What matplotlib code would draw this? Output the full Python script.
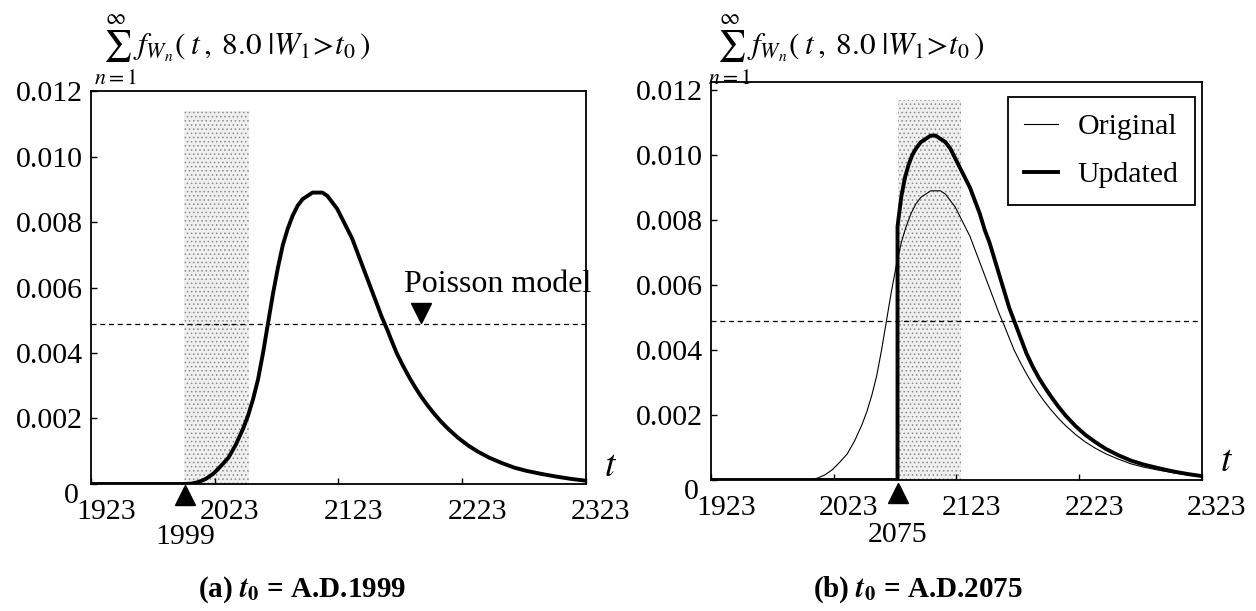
import matplotlib
matplotlib.use('Agg')
import matplotlib.pyplot as plt
from matplotlib.transforms import ScaledTranslation, offset_copy

# ---------------- data ----------------
x_ticks = [1923, 2023, 2123, 2223, 2323]
y_ticks = [0, 0.002, 0.004, 0.006, 0.008, 0.010, 0.012]
y_ticklabels = ['0', '0.002', '0.004', '0.006', '0.008', '0.010', '0.012']

poisson_rate = 0.0049

# original density (panel a curve, and thin "Original" curve in panel b)
orig_t = [1923, 1999, 2004, 2010, 2016, 2022, 2028, 2034, 2040, 2046, 2050, 2054,
          2058, 2062, 2066, 2070, 2074, 2078, 2082, 2086, 2090, 2094, 2098, 2102,
          2106, 2110, 2114, 2118, 2122, 2126, 2130, 2134, 2138, 2142, 2146, 2150,
          2154, 2158, 2162, 2166, 2170, 2175, 2180, 2185, 2190, 2195, 2200, 2206,
          2212, 2220, 2228, 2236, 2245, 2255, 2265, 2275, 2288, 2300, 2312, 2323]
orig_f = [0, 0, 0.00001, 0.00006, 0.00016, 0.00032, 0.00055, 0.0008, 0.0012, 0.0017,
          0.0021, 0.0026, 0.0032, 0.0040, 0.0049, 0.0058, 0.0066, 0.0073, 0.0078,
          0.0082, 0.0085, 0.0087, 0.0088, 0.0089, 0.0089, 0.0089, 0.0088, 0.0086,
          0.0084, 0.0081, 0.0078, 0.0075, 0.0071, 0.0067, 0.0063, 0.0059, 0.0055,
          0.0051, 0.00475, 0.00437, 0.0040, 0.00362, 0.00327, 0.00295, 0.00266,
          0.0024, 0.00216, 0.0019, 0.00167, 0.0014, 0.00117, 0.00098, 0.0008,
          0.00064, 0.0005, 0.0004, 0.0003, 0.00022, 0.00015, 0.0001]

# updated density (panel b, t0 = 2075)
upd_t = [1923, 2075, 2075, 2078, 2081, 2084, 2087, 2090, 2094, 2098, 2102, 2106,
         2110, 2114, 2118, 2122, 2126, 2130, 2134, 2138, 2142, 2146, 2150, 2154,
         2158, 2162, 2166, 2170, 2175, 2180, 2185, 2190, 2195, 2200, 2206, 2212,
         2220, 2228, 2236, 2245, 2255, 2265, 2275, 2288, 2300, 2312, 2323]
upd_f = [0, 0, 0.0078, 0.0087, 0.0093, 0.0097, 0.0100, 0.0102, 0.0104, 0.0105,
         0.0106, 0.0106, 0.0105, 0.0104, 0.0102, 0.0099, 0.0096, 0.0093, 0.0090,
         0.0086, 0.0082, 0.0077, 0.0073, 0.0068, 0.0063, 0.0058, 0.0053, 0.0049,
         0.0044, 0.0039, 0.0035, 0.00315, 0.00285, 0.00257, 0.00226, 0.00198,
         0.00166, 0.00139, 0.00117, 0.00095, 0.00076, 0.0006, 0.00048, 0.00036,
         0.00026, 0.00018, 0.00012]

t0_a = 1999
t0_b = 2075
shade_a = [1998, 2051]
shade_a_top = 0.0114
shade_b = [2075, 2127]
shade_b_top = 0.0117

# ---------------- style ----------------
plt.rcParams['font.family'] = ['Liberation Serif', 'DejaVu Serif']
plt.rcParams['mathtext.fontset'] = 'stix'
plt.rcParams['hatch.linewidth'] = 0.6
plt.rcParams['hatch.color'] = '#8a8a8a'

FS = 21.5
fig = plt.figure(figsize=(12.56, 6.11), dpi=100)
axL = fig.add_axes([0.0725, 0.2079, 0.394, 0.643])
axR = fig.add_axes([0.566, 0.2144, 0.391, 0.6514])


def setup(ax, ytop):
    ax.set_xlim(x_ticks[0], x_ticks[-1])
    ax.set_ylim(0, ytop)
    ax.set_xticks(x_ticks)
    ax.set_xticklabels([str(v) for v in x_ticks])
    ax.set_yticks(y_ticks)
    ax.set_yticklabels(y_ticklabels)
    ax.tick_params(direction='in', length=4, width=1, labelsize=FS)
    ax.tick_params(axis='x', pad=11)
    ax.tick_params(axis='y', pad=6)
    for s in ax.spines.values():
        s.set_linewidth(1.3)
    off = ScaledTranslation(15 / 100, 0, fig.dpi_scale_trans)
    for lab in ax.get_xticklabels():
        lab.set_transform(lab.get_transform() + off)
    zl = ax.get_yticklabels()[0]
    zl.set_transform(zl.get_transform() + ScaledTranslation(-4 / 100, -9 / 100, fig.dpi_scale_trans))
    ax.text(1.05, 0.045, r'$t$', transform=ax.transAxes, fontsize=27,
            ha='center', va='center')


setup(axL, 0.012)
setup(axR, 0.01225)

# shaded bands
axL.fill_between(shade_a, 0, shade_a_top, facecolor='#efefef', edgecolor='#8a8a8a',
                 hatch='....', linewidth=0, zorder=1)
axR.fill_between(shade_b, 0, shade_b_top, facecolor='#efefef', edgecolor='#8a8a8a',
                 hatch='....', linewidth=0, zorder=1)

# Poisson lines
for ax in (axL, axR):
    ax.axhline(poisson_rate, color='black', lw=0.9, ls=(0, (4, 3)), zorder=2)

# panel a curve
axL.plot([x_ticks[0], t0_a], [0, 0], color='black', lw=2.8, zorder=3)
a_t = [t for t in orig_t if t >= t0_a]
a_f = [f for t, f in zip(orig_t, orig_f) if t >= t0_a]
axL.plot(a_t, a_f, color='black', lw=2.8, zorder=3, solid_joinstyle='round')

# Poisson marker + label
tr = offset_copy(axL.transData, fig=fig, x=0, y=11, units='dots')
axL.plot([2190], [poisson_rate], marker='v', color='black', markersize=14,
         transform=tr, zorder=4, clip_on=False)
tr2 = offset_copy(axL.transData, fig=fig, x=0, y=39, units='dots')
axL.text(2176, poisson_rate, 'Poisson model', transform=tr2, fontsize=23,
         ha='left', va='center')

# t0 markers
for ax, t0, ty, ly in ((axL, t0_a, -0.027, -0.135), (axR, t0_b, -0.032, -0.137)):
    ax.plot([t0], [ty], marker='^', color='black', markersize=14,
            transform=ax.get_xaxis_transform(), clip_on=False, zorder=5)
    ax.text(t0, ly, str(t0), transform=ax.get_xaxis_transform(), fontsize=FS,
            ha='center', va='center')

# panel b curves
axR.plot(orig_t, orig_f, color='black', lw=0.8, zorder=3, label='Original')
axR.plot(upd_t, upd_f, color='black', lw=2.8, zorder=4, label='Updated',
         solid_joinstyle='round')
leg = axR.legend(loc='upper right', bbox_to_anchor=(0.986, 0.962), fontsize=FS,
                 frameon=True, fancybox=False, edgecolor='black', framealpha=1,
                 handlelength=1.15, handletextpad=0.65, borderpad=0.55,
                 labelspacing=0.7, borderaxespad=0)
leg.get_frame().set_linewidth(1.3)

# y-axis formula labels
formula = r'$\sum_{n=1}^{\infty} f_{W_n}(\;t\,,\;8.0\;|W_1\!>\!t_0\,)$'
fig.text(0.0745, 0.918, formula, fontsize=22.5, ha='left', va='center')
fig.text(0.5635, 0.918, formula, fontsize=22.5, ha='left', va='center')

# captions
fig.text(0.2405, 1 - 590 / 611, r'(a) $\mathbfit{t}_\mathbf{0}$ = A.D.1999', fontsize=21,
         fontweight='bold', ha='center', va='center')
fig.text(0.731, 1 - 590 / 611, r'(b) $\mathbfit{t}_\mathbf{0}$ = A.D.2075', fontsize=21,
         fontweight='bold', ha='center', va='center')

fig.savefig('out.png', dpi=100)
